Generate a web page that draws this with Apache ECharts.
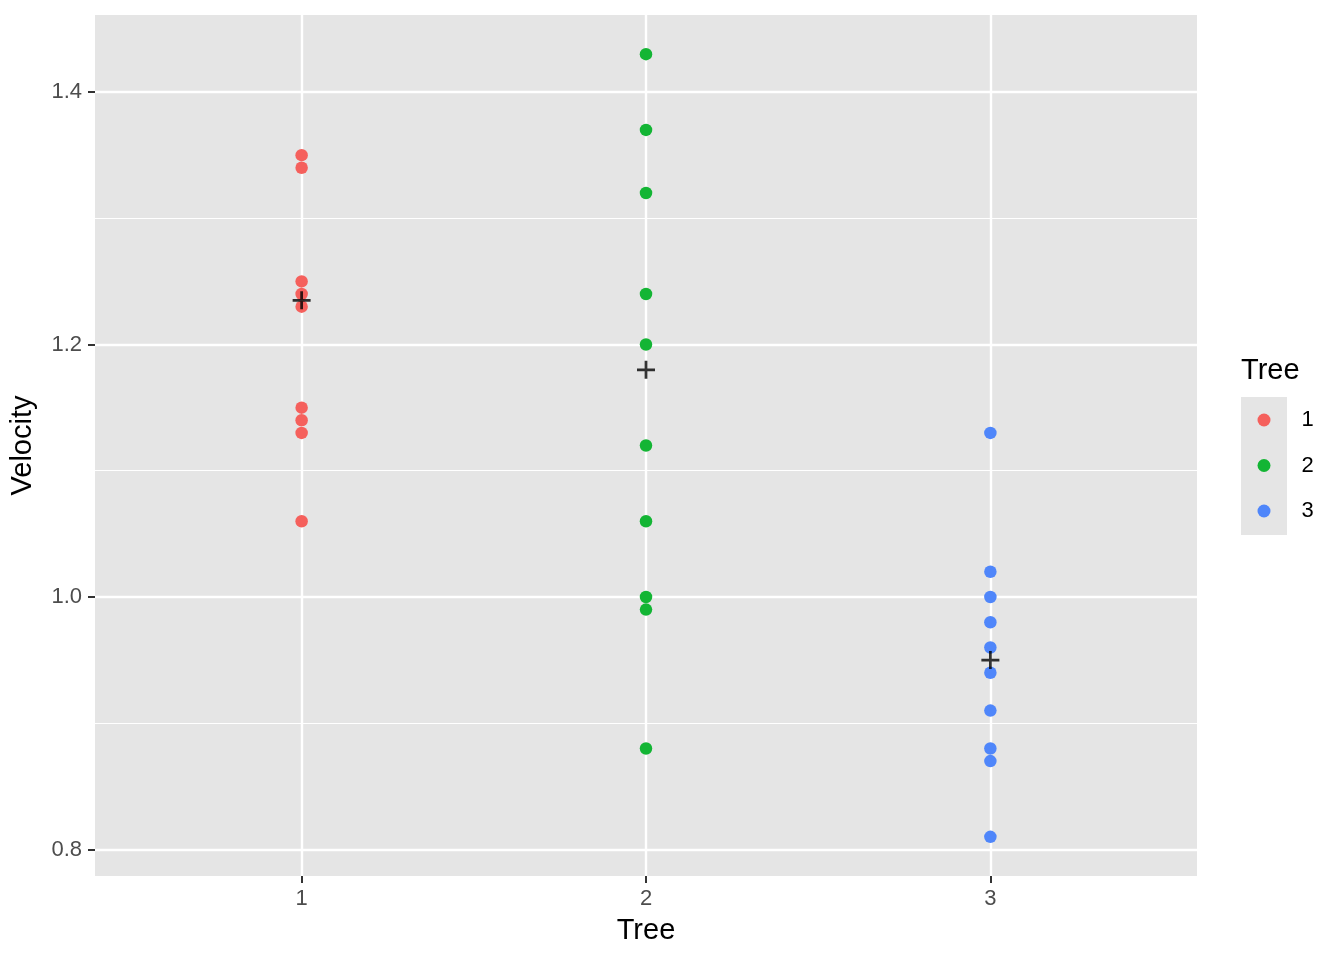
<!DOCTYPE html>
<html>
<head>
<meta charset="utf-8">
<script src="https://cdn.jsdelivr.net/npm/echarts@6/dist/echarts.min.js"></script>
<style>
html,body{margin:0;padding:0;background:#fff;}
#chart{width:1344px;height:960px;}
</style>
</head>
<body>
<div id="chart"></div>
<script>
// ---- data ----
const treeNames = ['1', '2', '3'];
const tree1 = [1.35, 1.34, 1.25, 1.24, 1.23, 1.15, 1.14, 1.13, 1.06];
const tree2 = [1.43, 1.37, 1.32, 1.24, 1.20, 1.12, 1.06, 1.00, 0.99, 0.88];
const tree3 = [1.13, 1.02, 1.00, 0.98, 0.96, 0.94, 0.91, 0.88, 0.87, 0.81];
const centers = [1.235, 1.18, 0.95];          // "+" markers per tree
const yMajorTicks = [0.8, 1.0, 1.2, 1.4];
const yMinorTicks = [0.9, 1.1, 1.3];
const xTicks = [1, 2, 3];

const colors = ['#F5605C', '#13B534', '#4F86FA'];
const PANEL = '#E5E5E5';
const FONT = '"Liberation Sans", Arial, Helvetica, sans-serif';
const plusPath = 'path://M7.2,0 H9.8 V7.2 H17 V9.8 H9.8 V17 H7.2 V9.8 H0 V7.2 H7.2 Z';

const groups = [tree1, tree2, tree3];
const pointSeries = groups.map((vals, i) => ({
  name: treeNames[i],
  type: 'scatter',
  xAxisIndex: 0, yAxisIndex: 0,
  symbol: 'circle',
  symbolSize: 12.5,
  itemStyle: { color: colors[i], opacity: 1 },
  emphasis: { disabled: true },
  data: vals.map(v => [xTicks[i], v]),
  z: 3
}));

const chart = echarts.init(document.getElementById('chart'), null, { renderer: 'canvas' });
chart.setOption({
  animation: false,
  backgroundColor: '#ffffff',
  textStyle: { fontFamily: FONT },
  grid: {
    left: 95, top: 15, right: 147, bottom: 84,
    show: true, backgroundColor: PANEL, borderWidth: 0,
    containLabel: false
  },
  title: {
    text: 'Tree', left: 1241, top: 356, padding: 0,
    textStyle: { fontFamily: FONT, fontSize: 29, fontWeight: 'normal', color: '#000' }
  },
  legend: {
    data: treeNames,
    orient: 'vertical',
    left: 1257.5, top: 409,
    padding: 0,
    itemWidth: 13, itemHeight: 13,
    itemGap: 23.5,
    icon: 'circle',
    selectedMode: false,
    textStyle: { fontFamily: FONT, fontSize: 22, lineHeight: 22, color: '#000', padding: [0, 0, 0, 26] }
  },
  graphic: [{
    type: 'rect', left: 1241, top: 397, z: -1,
    shape: { width: 46, height: 138 },
    style: { fill: PANEL }
  }],
  xAxis: [{
    type: 'value', min: 0.4, max: 3.6,
    name: 'Tree', nameLocation: 'middle', nameGap: 40,
    nameTextStyle: { fontFamily: FONT, fontSize: 29, color: '#000' },
    axisLine: { show: false },
    axisTick: { show: true, length: 7, customValues: xTicks, lineStyle: { color: '#333333', width: 2 } },
    axisLabel: { customValues: xTicks, fontFamily: FONT, fontSize: 22, color: '#4D4D4D', margin: 12,
                 formatter: v => String(Math.round(v)) },
    splitLine: { show: true, lineStyle: { color: '#ffffff', width: 2.4 } },
    minorSplitLine: { show: false }
  }],
  yAxis: [{
    type: 'value', min: 0.779, max: 1.461,
    name: 'Velocity', nameLocation: 'middle', nameGap: 58, nameRotate: 90,
    nameTextStyle: { fontFamily: FONT, fontSize: 29, color: '#000' },
    axisLine: { show: false },
    axisTick: { show: true, length: 7, customValues: yMajorTicks, lineStyle: { color: '#333333', width: 2 } },
    axisLabel: { customValues: yMajorTicks, fontFamily: FONT, fontSize: 22, color: '#4D4D4D', margin: 13,
                 formatter: v => v.toFixed(1) },
    splitLine: { show: true, lineStyle: { color: '#ffffff', width: 2.4 } },
    z: 1
  }, {
    type: 'value', min: 0.779, max: 1.461,
    position: 'left',
    axisLine: { show: false },
    axisTick: { show: false, customValues: yMinorTicks },
    axisLabel: { show: false, customValues: yMinorTicks },
    splitLine: { show: true, lineStyle: { color: '#ffffff', width: 1.2 } },
    z: 0
  }],
  series: pointSeries.concat([{
    name: 'center',
    type: 'scatter',
    xAxisIndex: 0, yAxisIndex: 0,
    symbol: plusPath,
    symbolSize: 18,
    itemStyle: { color: '#000000' },
    emphasis: { disabled: true },
    data: centers.map((v, i) => [xTicks[i], v]),
    z: 5
  }])
});
</script>
</body>
</html>
